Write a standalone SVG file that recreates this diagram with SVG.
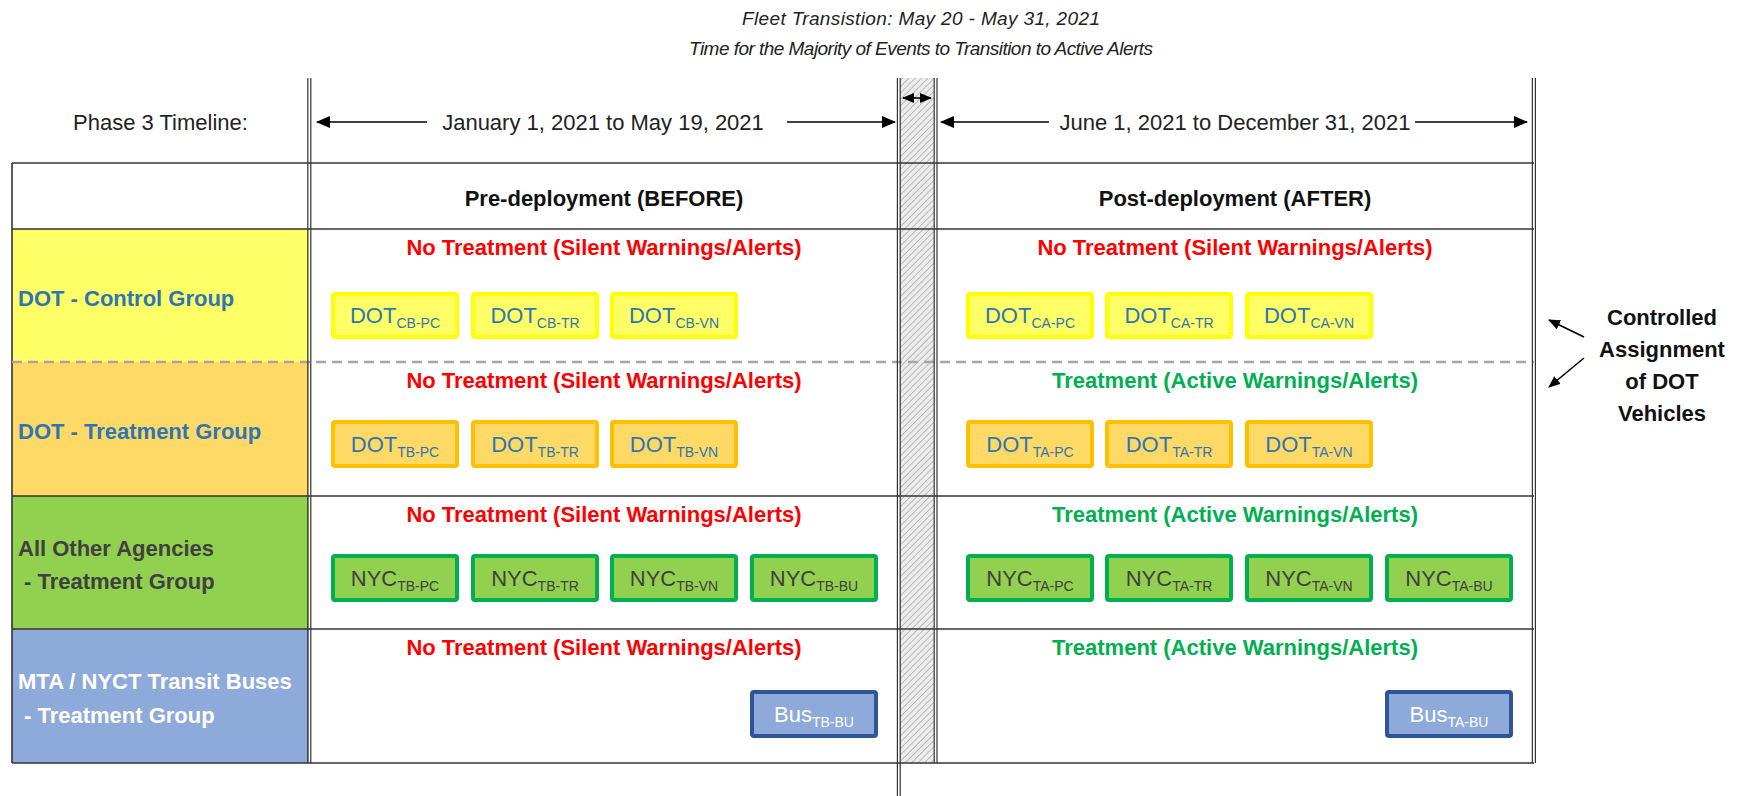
<svg xmlns="http://www.w3.org/2000/svg" width="1743" height="796" viewBox="0 0 1743 796">
<style>
text{font-family:"Liberation Sans",Arial,sans-serif}
.t22{font-size:22px}
.b{font-weight:bold}
.title{font-size:19px;font-style:italic;fill:#222;text-anchor:middle}
.grid{stroke:#333;stroke-width:1.6;fill:none}
.vline{stroke:#333;stroke-width:1.2;fill:none}
.dash{stroke:#a6a6a6;stroke-width:2.5;stroke-dasharray:10 6;fill:none}
.red{fill:#ff0000;font-weight:bold;font-size:22px;text-anchor:middle}
.grn{fill:#00b050;font-weight:bold;font-size:22px;text-anchor:middle}
.yb rect{fill:#ffff66;stroke:#ffff00;stroke-width:4}
.ob rect{fill:#ffd966;stroke:#ffc000;stroke-width:4}
.gb rect{fill:#92d050;stroke:#00b050;stroke-width:4}
.bb rect{fill:#8eaadb;stroke:#2f5597;stroke-width:4}
.bl{font-size:22px;text-anchor:middle}
.yb text,.ob text{fill:#2e75b6}
.gb text{fill:#404040}
.bb text{fill:#ffffff}
.sub{font-size:14px}
.arr{stroke:#000;stroke-width:1.6;fill:none}
</style>
<defs>
<pattern id="hatch" patternUnits="userSpaceOnUse" width="4.5" height="4.5" patternTransform="rotate(45)">
<rect width="4.5" height="4.5" fill="#ececec"/>
<line x1="0" y1="0" x2="0" y2="4.5" stroke="#a0a0a0" stroke-width="1.3"/>
</pattern>
<marker id="ah" markerUnits="userSpaceOnUse" markerWidth="14" markerHeight="12" refX="13" refY="6" orient="auto-start-reverse">
<path d="M0,0 L14,6 L0,12 Z" fill="#000"/>
</marker>
<marker id="ahs" markerUnits="userSpaceOnUse" markerWidth="12" markerHeight="10" refX="11" refY="5" orient="auto-start-reverse">
<path d="M0,0 L12,5 L0,10 Z" fill="#000"/>
</marker>
</defs>
<rect width="1743" height="796" fill="#fff"/>

<g id="title">
<text class="title" x="921" y="25" textLength="358">Fleet Transistion: May 20 - May 31, 2021</text>
<text class="title" x="921" y="55" textLength="464">Time for the Majority of Events to Transition to Active Alerts</text>
</g>

<g id="left-column">
<rect x="12" y="229" width="297" height="133" fill="#ffff66"/>
<rect x="12" y="362" width="297" height="134" fill="#ffd966"/>
<rect x="12" y="496" width="297" height="133" fill="#92d050"/>
<rect x="12" y="629" width="297" height="134" fill="#8eaadb"/>
</g>

<g id="band">
<rect x="900" y="78" width="34" height="685" fill="url(#hatch)"/>
</g>

<g id="grid">
<line class="grid" x1="12" y1="163" x2="1534" y2="163"/>
<line class="grid" x1="12" y1="229" x2="1534" y2="229"/>
<line class="grid" x1="12" y1="496" x2="1534" y2="496"/>
<line class="grid" x1="12" y1="629" x2="1534" y2="629"/>
<line class="grid" x1="12" y1="763" x2="1534" y2="763"/>
<line class="grid" x1="12" y1="163" x2="12" y2="763"/>
<line class="dash" x1="12" y1="362" x2="1534" y2="362"/>
<line class="vline" x1="307.8" y1="78" x2="307.8" y2="763"/>
<line class="vline" x1="310.8" y1="78" x2="310.8" y2="763"/>
<line class="vline" x1="897.4" y1="78" x2="897.4" y2="796"/>
<line class="vline" x1="900.2" y1="78" x2="900.2" y2="796"/>
<line class="vline" x1="934.2" y1="78" x2="934.2" y2="763"/>
<line class="vline" x1="937" y1="78" x2="937" y2="763"/>
<line class="vline" x1="1532.4" y1="78" x2="1532.4" y2="763"/>
<line class="vline" x1="1535.4" y1="78" x2="1535.4" y2="763"/>
</g>

<g id="timeline">
<text class="t22" x="73" y="130" fill="#222">Phase 3 Timeline:</text>
<text class="t22" x="603" y="130" fill="#222" text-anchor="middle">January 1, 2021 to May 19, 2021</text>
<text class="t22" x="1235" y="130" fill="#222" text-anchor="middle">June 1, 2021 to December 31, 2021</text>
</g>

<g id="connectors">
<line class="arr" x1="427" y1="122" x2="317" y2="122" marker-end="url(#ah)"/>
<line class="arr" x1="787" y1="122" x2="895" y2="122" marker-end="url(#ah)"/>
<line class="arr" x1="903" y1="98" x2="931" y2="98" marker-start="url(#ahs)" marker-end="url(#ahs)"/>
<line class="arr" x1="1049" y1="122" x2="941" y2="122" marker-end="url(#ah)"/>
<line class="arr" x1="1415" y1="122" x2="1527" y2="122" marker-end="url(#ah)"/>
<line class="arr" x1="1584" y1="337" x2="1549" y2="320" marker-end="url(#ahs)"/>
<line class="arr" x1="1584" y1="358" x2="1549" y2="387" marker-end="url(#ahs)"/>
</g>

<g id="headers">
<text class="t22 b" x="604" y="206" fill="#111" text-anchor="middle">Pre-deployment (BEFORE)</text>
<text class="t22 b" x="1235" y="206" fill="#111" text-anchor="middle">Post-deployment (AFTER)</text>
</g>

<g id="row-labels">
<text class="t22 b" x="18" y="306" fill="#2e75b6">DOT - Control Group</text>
<text class="t22 b" x="18" y="439" fill="#2e75b6">DOT - Treatment Group</text>
<text class="t22 b" x="18" y="556" fill="#404040">All Other Agencies</text>
<text class="t22 b" x="24" y="589" fill="#404040">- Treatment Group</text>
<text class="t22 b" x="18" y="689" fill="#ffffff">MTA / NYCT Transit Buses</text>
<text class="t22 b" x="24" y="723" fill="#ffffff">- Treatment Group</text>
</g>

<g id="treatment-labels">
<text class="red" x="604" y="255">No Treatment (Silent Warnings/Alerts)</text>
<text class="red" x="1235" y="255">No Treatment (Silent Warnings/Alerts)</text>
<text class="red" x="604" y="388">No Treatment (Silent Warnings/Alerts)</text>
<text class="grn" x="1235" y="388">Treatment (Active Warnings/Alerts)</text>
<text class="red" x="604" y="522">No Treatment (Silent Warnings/Alerts)</text>
<text class="grn" x="1235" y="522">Treatment (Active Warnings/Alerts)</text>
<text class="red" x="604" y="655">No Treatment (Silent Warnings/Alerts)</text>
<text class="grn" x="1235" y="655">Treatment (Active Warnings/Alerts)</text>
</g>

<g id="dot-cb-pc" class="yb"><rect x="333" y="294" width="124" height="43" rx="2"/><text class="bl" x="395" y="323">DOT<tspan class="sub" dy="5">CB-PC</tspan></text></g>
<g id="dot-cb-tr" class="yb"><rect x="473" y="294" width="124" height="43" rx="2"/><text class="bl" x="535" y="323">DOT<tspan class="sub" dy="5">CB-TR</tspan></text></g>
<g id="dot-cb-vn" class="yb"><rect x="612" y="294" width="124" height="43" rx="2"/><text class="bl" x="674" y="323">DOT<tspan class="sub" dy="5">CB-VN</tspan></text></g>
<g id="dot-ca-pc" class="yb"><rect x="968" y="294" width="124" height="43" rx="2"/><text class="bl" x="1030" y="323">DOT<tspan class="sub" dy="5">CA-PC</tspan></text></g>
<g id="dot-ca-tr" class="yb"><rect x="1107" y="294" width="124" height="43" rx="2"/><text class="bl" x="1169" y="323">DOT<tspan class="sub" dy="5">CA-TR</tspan></text></g>
<g id="dot-ca-vn" class="yb"><rect x="1247" y="294" width="124" height="43" rx="2"/><text class="bl" x="1309" y="323">DOT<tspan class="sub" dy="5">CA-VN</tspan></text></g>

<g id="dot-tb-pc" class="ob"><rect x="333" y="422" width="124" height="44" rx="2"/><text class="bl" x="395" y="452">DOT<tspan class="sub" dy="5">TB-PC</tspan></text></g>
<g id="dot-tb-tr" class="ob"><rect x="473" y="422" width="124" height="44" rx="2"/><text class="bl" x="535" y="452">DOT<tspan class="sub" dy="5">TB-TR</tspan></text></g>
<g id="dot-tb-vn" class="ob"><rect x="612" y="422" width="124" height="44" rx="2"/><text class="bl" x="674" y="452">DOT<tspan class="sub" dy="5">TB-VN</tspan></text></g>
<g id="dot-ta-pc" class="ob"><rect x="968" y="422" width="124" height="44" rx="2"/><text class="bl" x="1030" y="452">DOT<tspan class="sub" dy="5">TA-PC</tspan></text></g>
<g id="dot-ta-tr" class="ob"><rect x="1107" y="422" width="124" height="44" rx="2"/><text class="bl" x="1169" y="452">DOT<tspan class="sub" dy="5">TA-TR</tspan></text></g>
<g id="dot-ta-vn" class="ob"><rect x="1247" y="422" width="124" height="44" rx="2"/><text class="bl" x="1309" y="452">DOT<tspan class="sub" dy="5">TA-VN</tspan></text></g>

<g id="nyc-tb-pc" class="gb"><rect x="333" y="556" width="124" height="44" rx="2"/><text class="bl" x="395" y="586">NYC<tspan class="sub" dy="5">TB-PC</tspan></text></g>
<g id="nyc-tb-tr" class="gb"><rect x="473" y="556" width="124" height="44" rx="2"/><text class="bl" x="535" y="586">NYC<tspan class="sub" dy="5">TB-TR</tspan></text></g>
<g id="nyc-tb-vn" class="gb"><rect x="612" y="556" width="124" height="44" rx="2"/><text class="bl" x="674" y="586">NYC<tspan class="sub" dy="5">TB-VN</tspan></text></g>
<g id="nyc-tb-bu" class="gb"><rect x="752" y="556" width="124" height="44" rx="2"/><text class="bl" x="814" y="586">NYC<tspan class="sub" dy="5">TB-BU</tspan></text></g>
<g id="nyc-ta-pc" class="gb"><rect x="968" y="556" width="124" height="44" rx="2"/><text class="bl" x="1030" y="586">NYC<tspan class="sub" dy="5">TA-PC</tspan></text></g>
<g id="nyc-ta-tr" class="gb"><rect x="1107" y="556" width="124" height="44" rx="2"/><text class="bl" x="1169" y="586">NYC<tspan class="sub" dy="5">TA-TR</tspan></text></g>
<g id="nyc-ta-vn" class="gb"><rect x="1247" y="556" width="124" height="44" rx="2"/><text class="bl" x="1309" y="586">NYC<tspan class="sub" dy="5">TA-VN</tspan></text></g>
<g id="nyc-ta-bu" class="gb"><rect x="1387" y="556" width="124" height="44" rx="2"/><text class="bl" x="1449" y="586">NYC<tspan class="sub" dy="5">TA-BU</tspan></text></g>

<g id="bus-tb-bu" class="bb"><rect x="752" y="692" width="124" height="44" rx="2"/><text class="bl" x="814" y="722">Bus<tspan class="sub" dy="5">TB-BU</tspan></text></g>
<g id="bus-ta-bu" class="bb"><rect x="1387" y="692" width="124" height="44" rx="2"/><text class="bl" x="1449" y="722">Bus<tspan class="sub" dy="5">TA-BU</tspan></text></g>

<g id="controlled-assignment">
<text class="t22 b" x="1662" y="325" fill="#111" text-anchor="middle">Controlled</text>
<text class="t22 b" x="1662" y="357" fill="#111" text-anchor="middle">Assignment</text>
<text class="t22 b" x="1662" y="389" fill="#111" text-anchor="middle">of DOT</text>
<text class="t22 b" x="1662" y="421" fill="#111" text-anchor="middle">Vehicles</text>
</g>
</svg>
